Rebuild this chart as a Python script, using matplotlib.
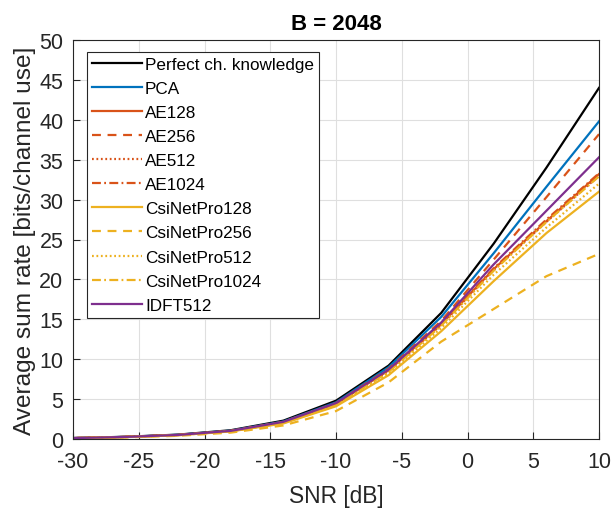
import matplotlib
matplotlib.use("Agg")
import matplotlib.pyplot as plt

plt.rcParams['font.family'] = ['Liberation Sans', 'DejaVu Sans']
plt.rcParams['axes.unicode_minus'] = False

snr = [-30, -26, -22, -18, -14, -10, -6, -2, 2, 6, 10]
perfect = [0.12, 0.28, 0.55, 1.1, 2.3, 4.8, 9.2, 15.8, 24.5, 34.0, 44.0]
pca = [0.12, 0.27, 0.53, 1.05, 2.2, 4.6, 9.0, 15.3, 23.3, 31.6, 39.8]
ae128 = [0.11, 0.26, 0.5, 1.0, 2.1, 4.4, 8.6, 14.4, 21.3, 27.3, 33.2]
ae256 = [0.11, 0.26, 0.51, 1.02, 2.15, 4.5, 8.8, 14.8, 22.5, 30.3, 38.2]
ae512 = [0.11, 0.26, 0.5, 1.0, 2.1, 4.4, 8.5, 14.3, 21.2, 27.2, 33.0]
ae1024 = [0.11, 0.26, 0.5, 1.0, 2.1, 4.4, 8.6, 14.4, 21.4, 27.5, 33.3]
csi128 = [0.1, 0.24, 0.47, 0.95, 1.95, 4.1, 8.0, 13.5, 19.8, 25.8, 31.0]
csi256 = [0.09, 0.2, 0.4, 0.8, 1.7, 3.5, 7.1, 12.2, 16.3, 20.4, 23.2]
csi512 = [0.1, 0.25, 0.48, 0.97, 2.0, 4.2, 8.2, 13.9, 20.6, 26.5, 32.0]
csi1024 = [0.1, 0.25, 0.49, 0.98, 2.05, 4.3, 8.4, 14.2, 21.1, 27.2, 32.9]
idft512 = [0.11, 0.26, 0.51, 1.02, 2.15, 4.5, 8.7, 14.6, 21.9, 28.6, 35.3]

labels = ['Perfect ch. knowledge', 'PCA', 'AE128', 'AE256', 'AE512', 'AE1024',
          'CsiNetPro128', 'CsiNetPro256', 'CsiNetPro512', 'CsiNetPro1024', 'IDFT512']
series = [perfect, pca, ae128, ae256, ae512, ae1024, csi128, csi256, csi512, csi1024, idft512]

BLACK = '#000000'
BLUE = '#0072BD'
ORANGE = '#D95319'
YELLOW = '#EDB120'
PURPLE = '#7E2F8E'
colors = [BLACK, BLUE, ORANGE, ORANGE, ORANGE, ORANGE, YELLOW, YELLOW, YELLOW, YELLOW, PURPLE]
solid = (None, None)
dashed = (4, 3)
dotted = (0.8, 1.2)
dashdot = (4, 1.5, 0.8, 1.5)
styles = [solid, solid, solid, dashed, dotted, dashdot, solid, dashed, dotted, dashdot, solid]

fig = plt.figure(figsize=(6.13, 5.10), dpi=100)
ax = fig.add_axes([73/613, 1-440/510, (599-73)/613, (440-41)/510])

for y, lab, c, st in zip(series, labels, colors, styles):
    line, = ax.plot(snr, y, color=c, lw=1.6, label=lab)
    if st[0] is not None:
        line.set_dashes(st)

ax.set_xlim(-30, 10)
ax.set_ylim(0, 50)
ax.set_xticks(range(-30, 11, 5))
ax.set_yticks(range(0, 51, 5))
ax.grid(True, color='#dfdfdf', lw=0.8)
ax.set_axisbelow(True)
ax.tick_params(direction='in', labelsize=15.5, colors='#262626', length=5, top=False, right=False)
ax.tick_params(axis='x', pad=9)
ax.tick_params(axis='y', pad=7)
for s in ax.spines.values():
    s.set_color('#262626')
    s.set_linewidth(0.8)

ax.set_xlabel('SNR [dB]', fontsize=16.4, color='#262626', labelpad=8)
ax.set_ylabel('Average sum rate [bits/channel use]', fontsize=17.6, color='#262626', labelpad=2)
ax.set_title('B = 2048', fontsize=16, fontweight='bold', pad=8)

leg = ax.legend(loc='upper left', bbox_to_anchor=(0.0266, 0.97), borderaxespad=0,
                fontsize=12.3, handlelength=2.9, handletextpad=0.2, labelspacing=0.53,
                borderpad=0.3, fancybox=False, framealpha=1, edgecolor='#262626')
leg.get_frame().set_linewidth(0.8)

fig.savefig('out.png', dpi=100)
